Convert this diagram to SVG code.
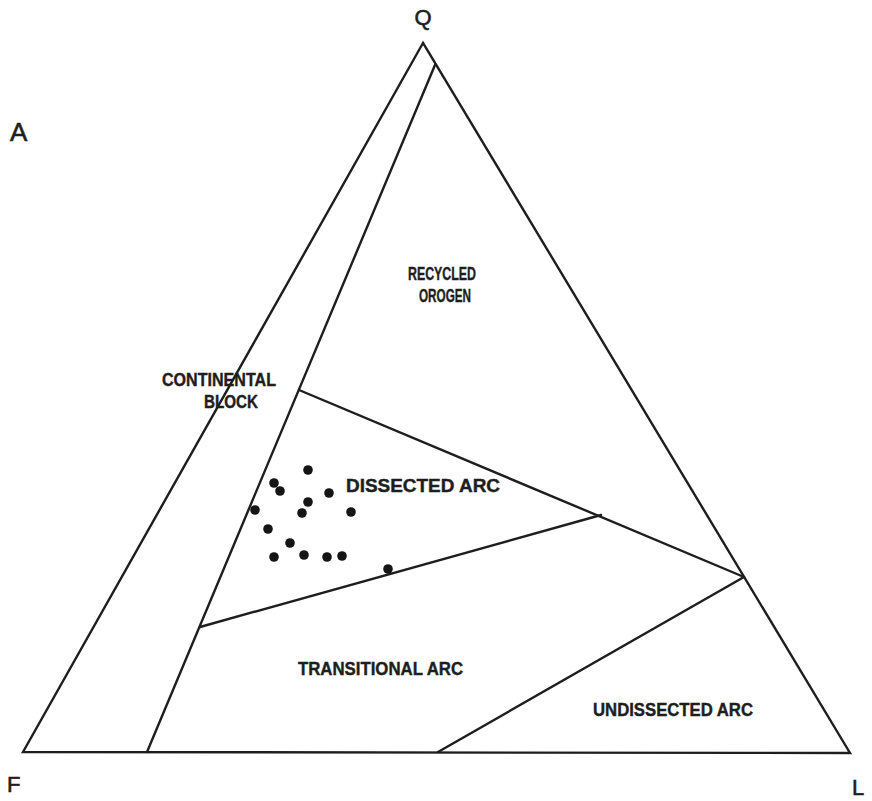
<svg xmlns="http://www.w3.org/2000/svg" width="872" height="801" viewBox="0 0 872 801">
<style>
.edge{fill:none;stroke:#1e1e1e;stroke-width:2.4;stroke-linejoin:miter;stroke-linecap:round}
.corner{font-family:"Liberation Sans",Arial,sans-serif;font-size:22px;fill:#1e1e1e;stroke:#1e1e1e;stroke-width:0.6}
.lbl{font-family:"Liberation Sans",Arial,sans-serif;font-weight:bold;font-size:18px;fill:#1e1e1e;stroke:#1e1e1e;stroke-width:0.4}
.dot{fill:#151515}
</style>
<rect width="872" height="801" fill="#ffffff"/>
<g id="connectors">
<polygon class="edge" points="423,43 23,752 850,753"/>
<line class="edge" x1="435" y1="65" x2="147" y2="752"/>
<line class="edge" x1="299" y1="390" x2="744" y2="577"/>
<line class="edge" x1="601" y1="515" x2="200" y2="627"/>
<line class="edge" x1="744" y1="577" x2="438" y2="752"/>
</g>
<g id="corner-Q"><text class="corner" x="423" y="25" text-anchor="middle">Q</text></g>
<g id="corner-F"><text class="corner" x="7" y="792">F</text></g>
<g id="corner-L"><text class="corner" x="852" y="795">L</text></g>
<g id="panel-A"><text class="corner" x="10" y="141" style="font-size:26px">A</text></g>
<g id="recycled-orogen">
<text class="lbl" x="408" y="280" textLength="68" lengthAdjust="spacingAndGlyphs">RECYCLED</text>
<text class="lbl" x="419" y="302" textLength="52" lengthAdjust="spacingAndGlyphs">OROGEN</text>
</g>
<g id="continental-block">
<text class="lbl" x="162" y="386" textLength="114" lengthAdjust="spacingAndGlyphs">CONTINENTAL</text>
<text class="lbl" x="204" y="408" textLength="54" lengthAdjust="spacingAndGlyphs">BLOCK</text>
</g>
<g id="dissected-arc"><text class="lbl" x="346" y="492" textLength="154" lengthAdjust="spacingAndGlyphs">DISSECTED ARC</text></g>
<g id="transitional-arc"><text class="lbl" x="298" y="675" textLength="165" lengthAdjust="spacingAndGlyphs">TRANSITIONAL ARC</text></g>
<g id="undissected-arc"><text class="lbl" x="593" y="716" textLength="160" lengthAdjust="spacingAndGlyphs">UNDISSECTED ARC</text></g>
<g id="samples">
<circle class="dot" cx="308" cy="470" r="4.8"/>
<circle class="dot" cx="274" cy="483" r="4.8"/>
<circle class="dot" cx="280" cy="491" r="4.8"/>
<circle class="dot" cx="329" cy="493" r="4.8"/>
<circle class="dot" cx="308" cy="502" r="4.8"/>
<circle class="dot" cx="302" cy="513" r="4.8"/>
<circle class="dot" cx="255" cy="510" r="4.8"/>
<circle class="dot" cx="351" cy="512" r="4.8"/>
<circle class="dot" cx="268" cy="529" r="4.8"/>
<circle class="dot" cx="290" cy="543" r="4.8"/>
<circle class="dot" cx="274" cy="557" r="4.8"/>
<circle class="dot" cx="304" cy="555" r="4.8"/>
<circle class="dot" cx="327" cy="557" r="4.8"/>
<circle class="dot" cx="342" cy="556" r="4.8"/>
<circle class="dot" cx="388" cy="569" r="4.8"/>
</g>
</svg>
